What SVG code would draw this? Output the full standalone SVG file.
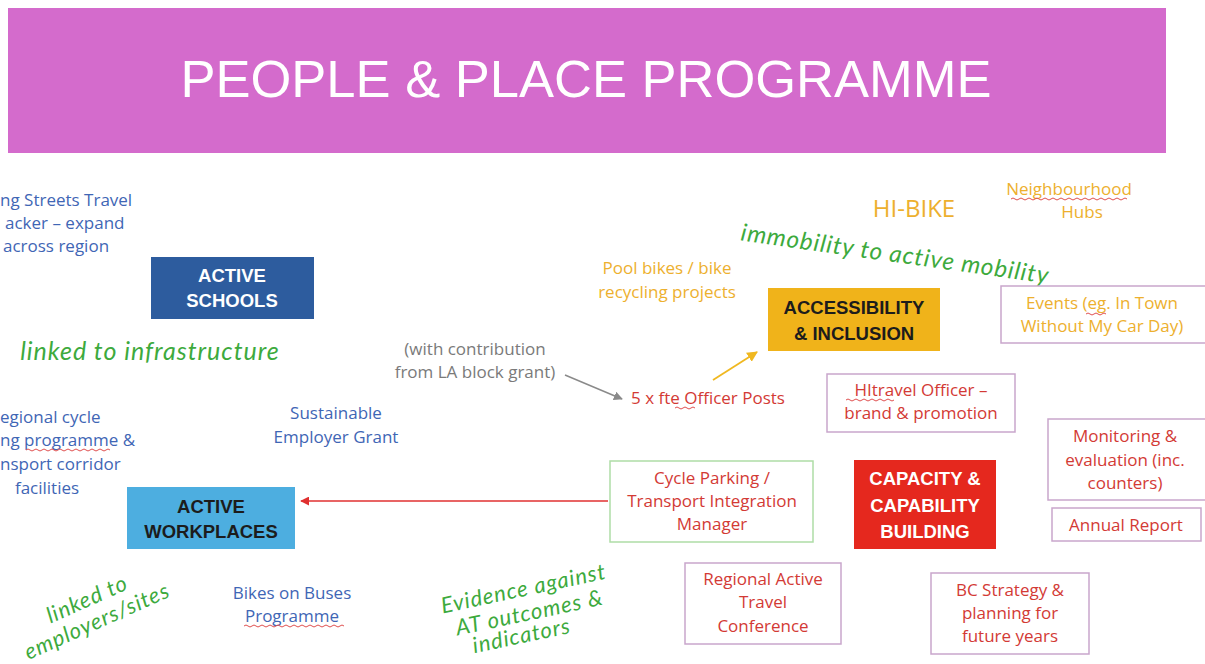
<svg xmlns="http://www.w3.org/2000/svg" width="1205" height="664" viewBox="0 0 1205 664">
<defs>
<style>
.t{font-family:"Open Sans","Liberation Sans",Arial,sans-serif;font-size:17px;text-anchor:middle}
.blue{fill:#3F66B5}
.org{fill:#EDB02E}
.red{fill:#D33A35}
.gray{fill:#7A7A7A}
.hand{font-family:"Lato","Liberation Sans",sans-serif;font-style:italic;font-size:24px;letter-spacing:1px;fill:#3DAA3D;text-anchor:middle}
.hd{font-family:"Liberation Sans",Arial,sans-serif;font-size:18.5px;font-weight:bold;text-anchor:middle}
.pbox{fill:#fff;stroke:#C9A6CC;stroke-width:1.5}
.wavy{fill:none;stroke:#E05050;stroke-width:1}
</style>
<marker id="arR" viewBox="0 0 10 10" refX="9" refY="5" markerWidth="6" markerHeight="6" orient="auto"><path d="M0,0 L10,5 L0,10 z" fill="#E03030"/></marker>
<marker id="arG" viewBox="0 0 10 10" refX="9" refY="5" markerWidth="6" markerHeight="6" orient="auto"><path d="M0,0 L10,5 L0,10 z" fill="#8A8A8A"/></marker>
<marker id="arY" viewBox="0 0 10 10" refX="9" refY="5" markerWidth="6" markerHeight="6" orient="auto"><path d="M0,0 L10,5 L0,10 z" fill="#F0B820"/></marker>
</defs>
<rect width="1205" height="664" fill="#fff"/>

<g id="header">
<rect x="8" y="8" width="1158" height="145" fill="#D46BCC"/>
<text x="586" y="97" font-family="Liberation Sans,Arial,sans-serif" font-size="52.5" fill="#fff" text-anchor="middle">PEOPLE &amp; PLACE PROGRAMME</text>
</g>

<g id="streets-tracker">
<text class="t blue" style="text-anchor:start" x="0" y="206">ng Streets Travel</text>
<text class="t blue" style="text-anchor:start" x="5" y="229">acker – expand</text>
<text class="t blue" style="text-anchor:start" x="3" y="252">across region</text>
</g>

<g id="active-schools">
<rect x="151" y="257" width="163" height="62" fill="#2D5C9E"/>
<text class="hd" x="232" y="282" fill="#fff">ACTIVE</text>
<text class="hd" x="232" y="307" fill="#fff">SCHOOLS</text>
</g>

<g id="note-infrastructure">
<text class="hand" style="font-size:25px" x="150" y="360">linked to infrastructure</text>
</g>

<g id="regional-cycle">
<text class="t blue" style="text-anchor:start" x="0" y="423">egional cycle</text>
<text class="t blue" style="text-anchor:start" x="0" y="446">ng programme &amp;</text>
<path class="wavy" d="M26,450 q2,-2 4,0 t4,0 t4,0 t4,0 t4,0 t4,0 t4,0 t4,0 t4,0 t4,0 t4,0 t4,0 t4,0 t4,0 t4,0 t4,0 t4,0 t4,0 t4,0 t4,0 t4,0"/>
<text class="t blue" style="text-anchor:start" x="0" y="470">nsport corridor</text>
<text class="t blue" x="47" y="494">facilities</text>
</g>

<g id="sustainable-employer">
<text class="t blue" x="336" y="419">Sustainable</text>
<text class="t blue" x="336" y="443">Employer Grant</text>
</g>

<g id="active-workplaces">
<rect x="127" y="487" width="168" height="62" fill="#4DAEE0"/>
<text class="hd" x="211" y="513" fill="#1c1c1c">ACTIVE</text>
<text class="hd" x="211" y="538" fill="#1c1c1c">WORKPLACES</text>
</g>

<g id="note-employers">
<text class="hand" style="font-size:22px" transform="translate(90,606) rotate(-24)" x="0" y="0">linked to</text>
<text class="hand" style="font-size:22px" transform="translate(100,628) rotate(-24)" x="0" y="0">employers/sites</text>
</g>

<g id="bikes-on-buses">
<text class="t blue" x="292" y="599">Bikes on Buses</text>
<text class="t blue" x="292" y="622">Programme</text>
<path class="wavy" d="M244,626 q2,-2 4,0 t4,0 t4,0 t4,0 t4,0 t4,0 t4,0 t4,0 t4,0 t4,0 t4,0 t4,0 t4,0 t4,0 t4,0 t4,0 t4,0 t4,0 t4,0 t4,0 t4,0 t4,0 t4,0 t4,0 t4,0"/>
</g>

<g id="la-contribution">
<text class="t gray" x="475" y="355">(with contribution</text>
<text class="t gray" x="475" y="378">from LA block grant)</text>
</g>

<g id="officer-posts">
<text class="t red" style="text-anchor:start" x="631" y="404">5 x fte Officer Posts</text>
<path class="wavy" d="M675,408 q2,-2 4,0 t4,0 t4,0 t4,0 t4,0"/>
</g>

<g id="pool-bikes">
<text class="t org" x="667" y="274">Pool bikes / bike</text>
<text class="t org" x="667" y="298">recycling projects</text>
</g>

<g id="hi-bike">
<text class="t org" x="914" y="217" style="font-size:24px">HI-BIKE</text>
</g>

<g id="neighbourhood-hubs">
<text class="t org" x="1069" y="195">Neighbourhood</text>
<path class="wavy" d="M1011,199 q2,-2 4,0 t4,0 t4,0 t4,0 t4,0 t4,0 t4,0 t4,0 t4,0 t4,0 t4,0 t4,0 t4,0 t4,0 t4,0 t4,0 t4,0 t4,0 t4,0 t4,0 t4,0 t4,0 t4,0 t4,0 t4,0 t4,0 t4,0 t4,0 t4,0"/>
<text class="t org" x="1082" y="218">Hubs</text>
</g>

<g id="note-immobility">
<text class="hand" transform="translate(894,262) rotate(8)" x="0" y="0">immobility to active mobility</text>
</g>

<g id="accessibility">
<rect x="768" y="288" width="172" height="63" fill="#F0B31A"/>
<text class="hd" x="854" y="314" fill="#1c1c1c">ACCESSIBILITY</text>
<text class="hd" x="854" y="340" fill="#1c1c1c">&amp; INCLUSION</text>
</g>

<g id="events">
<rect class="pbox" x="1001" y="286" width="205" height="57"/>
<text class="t org" x="1102" y="309">Events (eg. In Town</text>
<path class="wavy" d="M1086,314 q2,-2 4,0 t4,0 t4,0 t4,0 t4,0"/>
<text class="t org" x="1102" y="332">Without My Car Day)</text>
</g>

<g id="hitravel">
<rect class="pbox" x="827" y="374" width="188" height="58"/>
<text class="t red" x="921" y="396">HItravel Officer –</text>
<path class="wavy" d="M846,400 q2,-2 4,0 t4,0 t4,0 t4,0 t4,0 t4,0 t4,0 t4,0 t4,0 t4,0 t4,0 t4,0"/>
<text class="t red" x="921" y="419">brand &amp; promotion</text>
</g>

<g id="monitoring">
<rect class="pbox" x="1048" y="419" width="160" height="81"/>
<text class="t red" x="1125" y="442">Monitoring &amp;</text>
<text class="t red" x="1125" y="466">evaluation (inc.</text>
<text class="t red" x="1125" y="489">counters)</text>
</g>

<g id="annual-report">
<rect class="pbox" x="1052" y="508" width="149" height="33"/>
<text class="t red" x="1126" y="531">Annual Report</text>
</g>

<g id="cycle-parking">
<rect x="610" y="461" width="203" height="81" fill="#fff" stroke="#AEDDA6" stroke-width="1.5"/>
<text class="t red" x="712" y="484">Cycle Parking /</text>
<text class="t red" x="712" y="507">Transport Integration</text>
<text class="t red" x="712" y="530">Manager</text>
</g>

<g id="capacity">
<rect x="854" y="460" width="142" height="89" fill="#E5281E"/>
<text class="hd" x="925" y="485" fill="#fff">CAPACITY &amp;</text>
<text class="hd" x="925" y="512" fill="#fff">CAPABILITY</text>
<text class="hd" x="925" y="538" fill="#fff">BUILDING</text>
</g>

<g id="conference">
<rect class="pbox" x="685" y="563" width="156" height="81"/>
<text class="t red" x="763" y="585">Regional Active</text>
<text class="t red" x="763" y="608">Travel</text>
<text class="t red" x="763" y="632">Conference</text>
</g>

<g id="bc-strategy">
<rect class="pbox" x="931" y="573" width="158" height="81"/>
<text class="t red" x="1010" y="596">BC Strategy &amp;</text>
<text class="t red" x="1010" y="619">planning for</text>
<text class="t red" x="1010" y="642">future years</text>
</g>

<g id="note-evidence">
<text class="hand" style="font-size:22px" transform="translate(525,596) rotate(-12)" x="0" y="0">Evidence against</text>
<text class="hand" style="font-size:22px" transform="translate(531,620) rotate(-12)" x="0" y="0">AT outcomes &amp;</text>
<text class="hand" style="font-size:22px" transform="translate(523,643) rotate(-12)" x="0" y="0">indicators</text>
</g>

<g id="connectors">
<line x1="608" y1="501" x2="301" y2="501" stroke="#E03030" stroke-width="1.5" marker-end="url(#arR)"/>
<line x1="565" y1="375" x2="622" y2="399" stroke="#8A8A8A" stroke-width="1.5" marker-end="url(#arG)"/>
<line x1="713" y1="380" x2="757" y2="352" stroke="#F0B820" stroke-width="1.8" marker-end="url(#arY)"/>
</g>
</svg>
